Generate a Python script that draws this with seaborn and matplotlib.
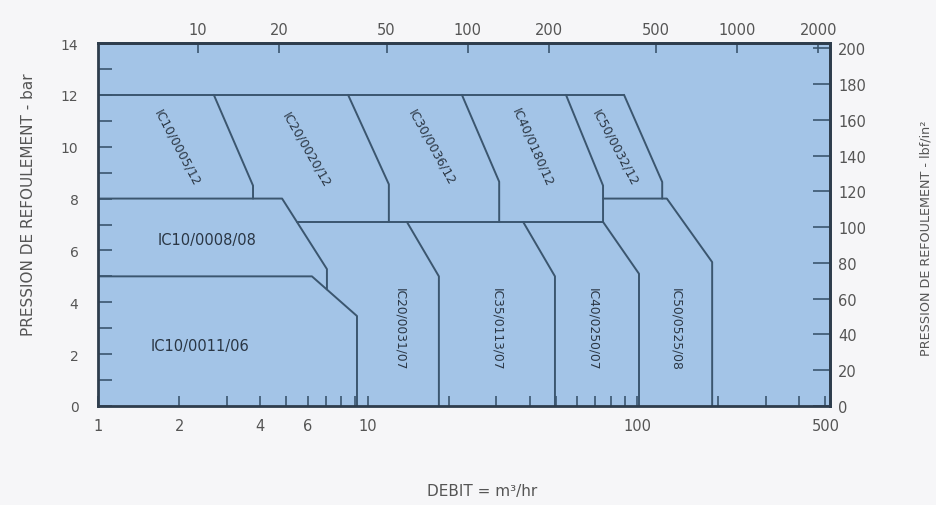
import matplotlib
matplotlib.use("Agg")
import matplotlib.pyplot as plt
import seaborn as sns
from matplotlib.ticker import FixedLocator, FixedFormatter, NullLocator

# ---------------- data (DEBIT m3/hr, PRESSION bar) ----------------
# boundary polylines of the selection chart
line12_x = [1, 89.5]
line12_y = [12, 12]
line8_x = [1, 4.82, 7.07, 7.07]
line8_y = [8, 8, 5.28, 4.5]
line5_x = [1, 6.22, 9.14, 9.14]
line5_y = [5.0, 5.0, 3.47, 0]
line71_x = [5.47, 74.8]
line71_y = [7.1, 7.1]
line8r_x = [74.8, 129, 190, 190]
line8r_y = [8, 8, 5.55, 0]
ic10_12_x = [2.69, 3.76, 3.76]
ic10_12_y = [12, 8.5, 8]
ic20_12_x = [8.47, 12.0, 12.0]
ic20_12_y = [12, 8.55, 7.1]
ic30_12_x = [22.4, 30.8, 30.8]
ic30_12_y = [12, 8.65, 7.1]
ic40_12_x = [54.5, 74.8, 74.8, 101.7, 101.7]
ic40_12_y = [12, 8.5, 7.1, 5.1, 0]
ic50_12_x = [89.5, 124, 124]
ic50_12_y = [12, 8.64, 8]
ic20_07_x = [14.0, 18.4, 18.4]
ic20_07_y = [7.1, 5.0, 0]
ic35_07_x = [37.8, 49.6, 49.6]
ic35_07_y = [7.1, 5.0, 0]

# region labels
slanted_names = ["IC10/0005/12", "IC20/0020/12", "IC30/0036/12", "IC40/0180/12", "IC50/0032/12"]
flat_names = ["IC10/0008/08", "IC10/0011/06"]
vertical_names = ["IC20/0031/07", "IC35/0113/07", "IC40/0250/07", "IC50/0525/08"]

# axis tick values / labels
bar_ticks = [0, 2, 4, 6, 8, 10, 12, 14]
psi_ticks = [0, 20, 40, 60, 80, 100, 120, 140, 160, 180, 200]
m3h_ticks = [1, 2, 4, 6, 10, 100, 500]
m3h_minor = [3, 5, 7, 8, 9, 20, 30, 40, 50, 60, 70, 80, 90, 200, 300, 400]
gpm_ticks = [10, 20, 50, 100, 200, 500, 1000, 2000]
BAR_TO_PSI = 14.5038
M3H_TO_GPM = 4.25

# ---------------- style ----------------
sns.set_style("white")
plt.rcParams['font.family'] = ['DejaVu Sans']

LINE = '#3b566f'
SPINE = '#2e3d4d'
TXT = '#555555'
LBL = '#2a3644'

fig = plt.figure(figsize=(9.36, 5.06), dpi=100, facecolor='#f6f6f8')
ax = fig.add_axes([98/936, 99/506, 732/936, 363/506])
ax.set_facecolor('#a3c4e7')
ax.set_xscale('log')
ax.set_xlim(1, 520)
ax.set_ylim(0, 14)

polylines = [
    (line12_x, line12_y), (line8_x, line8_y), (line5_x, line5_y),
    (line71_x, line71_y), (line8r_x, line8r_y),
    (ic10_12_x, ic10_12_y), (ic20_12_x, ic20_12_y), (ic30_12_x, ic30_12_y),
    (ic40_12_x, ic40_12_y), (ic50_12_x, ic50_12_y),
    (ic20_07_x, ic20_07_y), (ic35_07_x, ic35_07_y),
]
for xs, ys in polylines:
    sns.lineplot(x=xs, y=ys, ax=ax, sort=False, estimator=None,
                 color=LINE, linewidth=1.4)

# labels
slanted_pos = [(1.96, 10.0), (5.91, 9.9), (17.35, 10.0), (41.1, 10.0), (82.9, 10.0)]
slanted_rot = [-62, -60, -61, -66, -62]
for name, (x, y), r in zip(slanted_names, slanted_pos, slanted_rot):
    ax.text(x, y, name, rotation=r, rotation_mode='anchor', ha='center',
            va='center', fontsize=9, color=LBL)
flat_pos = [(2.54, 6.44), (2.39, 2.35)]
for name, (x, y) in zip(flat_names, flat_pos):
    ax.text(x, y, name, ha='center', va='center', fontsize=10.5, color=LBL)
vert_pos = [(13.2, 3.0), (30.2, 3.0), (68.7, 3.0), (139.5, 3.0)]
for name, (x, y) in zip(vertical_names, vert_pos):
    ax.text(x, y, name, rotation=-90, rotation_mode='anchor', ha='center',
            va='center', fontsize=8.8, color=LBL)

# spines
for s in ax.spines.values():
    s.set_visible(True)
    s.set_color(SPINE)
    s.set_linewidth(2)

# bottom axis
ax.xaxis.set_major_locator(FixedLocator(m3h_ticks))
ax.xaxis.set_major_formatter(FixedFormatter([str(v) for v in m3h_ticks]))
ax.xaxis.set_minor_locator(FixedLocator(m3h_minor))
ax.tick_params(axis='x', which='both', direction='in', length=7, width=1.2,
               color=LINE, bottom=True, top=False, labelsize=10.5,
               labelcolor=TXT, pad=9)
# left axis
ax.yaxis.set_major_locator(FixedLocator(bar_ticks))
ax.yaxis.set_minor_locator(FixedLocator([1, 3, 5, 7, 9, 11, 13]))
ax.tick_params(axis='y', which='both', direction='in', length=10, width=1.2,
               color=LINE, left=True, right=False, labelsize=10,
               labelcolor=TXT, pad=14)

# top axis (US gpm)
top = ax.secondary_xaxis('top', functions=(lambda q: q * M3H_TO_GPM,
                                           lambda g: g / M3H_TO_GPM))
top.xaxis.set_major_locator(FixedLocator(gpm_ticks))
top.xaxis.set_major_formatter(FixedFormatter([str(v) for v in gpm_ticks]))
top.xaxis.set_minor_locator(NullLocator())
top.tick_params(axis='x', which='both', direction='in', length=7, width=1.2,
                color=LINE, labelsize=10.5, labelcolor=TXT, pad=4)
for s in top.spines.values():
    s.set_color(SPINE)
    s.set_linewidth(2)

# right axis (lbf/in2)
right = ax.secondary_yaxis('right', functions=(lambda b: b * BAR_TO_PSI,
                                               lambda p: p / BAR_TO_PSI))
right.yaxis.set_major_locator(FixedLocator(psi_ticks))
right.yaxis.set_major_formatter(FixedFormatter([str(v) for v in psi_ticks]))
right.yaxis.set_minor_locator(NullLocator())
right.tick_params(axis='y', which='both', direction='in', length=12, width=1.2,
                  color=LINE, labelsize=10.5, labelcolor=TXT, pad=6)
for s in right.spines.values():
    s.set_color(SPINE)
    s.set_linewidth(2)

# axis titles
ax.set_ylabel("PRESSION DE REFOULEMENT - bar", fontsize=11, color=TXT)
ax.yaxis.set_label_coords(-0.085, 0.556)
fig.text(926/936, 1 - 238/506, "PRESSION DE REFOULEMENT - lbf/in²",
         fontsize=9.2, color=TXT, rotation=90, ha='center', va='center')
ax.set_xlabel("DEBIT = m³/hr", fontsize=11, color=TXT)
ax.xaxis.label.set_va('center')
ax.xaxis.set_label_coords(0.5246, -0.234)

fig.savefig("out.png", dpi=100, facecolor=fig.get_facecolor())
